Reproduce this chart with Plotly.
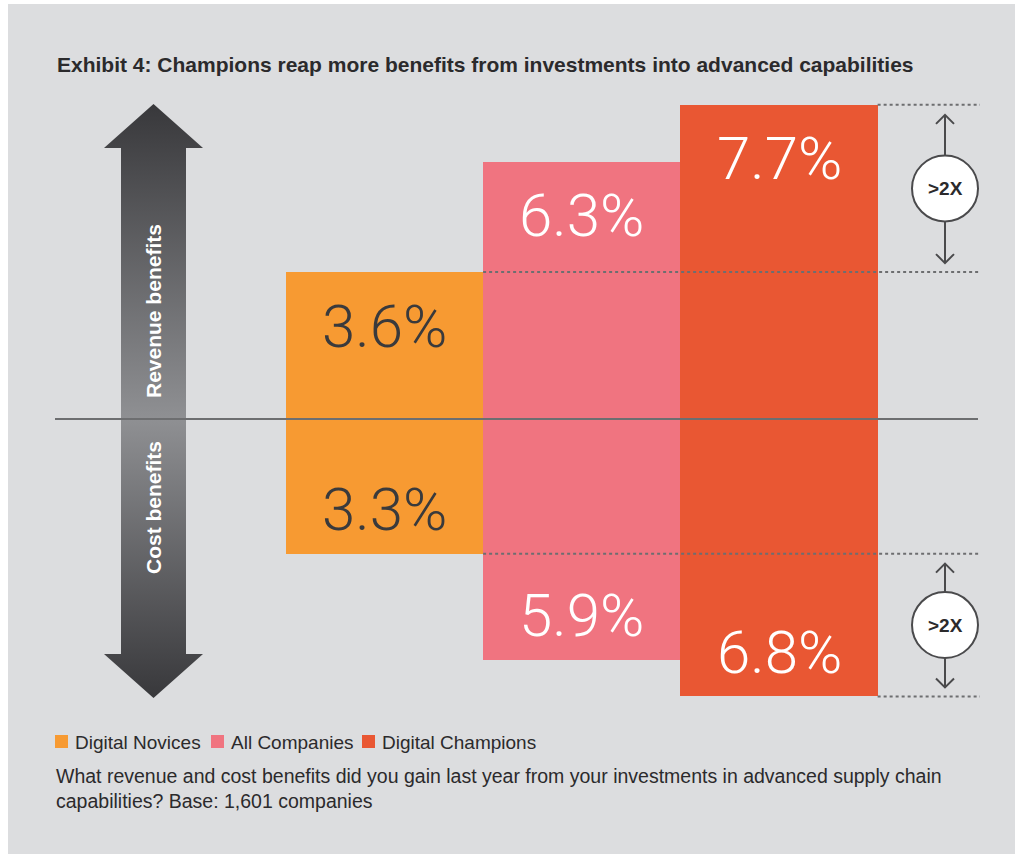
import base64
import plotly.graph_objects as go

# ---------------- data ----------------
groups = ["Digital Novices", "All Companies", "Digital Champions"]
revenue_benefits = [3.6, 6.3, 7.7]
cost_benefits = [3.3, 5.9, 6.8]
colors = ["#f79a32", "#f07480", "#e95733"]
label_colors = ["#3a3a3c", "#ffffff", "#ffffff"]
title_text = "Exhibit 4: Champions reap more benefits from investments into advanced capabilities"
note_text = ("What revenue and cost benefits did you gain last year from your investments in advanced supply chain"
             "<br>capabilities? Base: 1,601 companies")
bracket_label = ">2X"

# ---------------- geometry ----------------
W, H = 1015, 854
L, R, T, B = 55, 15, 90, 134
PW, PH = W - L - R, H - T - B
PXX = 197.25          # pixels per category
PXY = 40.8            # pixels per percentage point
ZERO_PX = 419
X_MIN = -(384.5 - L) / PXX
XR = [X_MIN, X_MIN + PW / PXX]
YR = [-(T + PH - ZERO_PX) / PXY, (ZERO_PX - T) / PXY]


def xp(px):
    return (px - L) / PW


def yp(py):
    return (H - B - py) / PH


def ypix(v):
    return ZERO_PX - v * PXY


BG = "#dcdddf"
LINE = "#6d6e70"
TXT = "#2b2a2c"
FONT = "Liberation Sans, Arial, sans-serif"
NUM_FONT = "Roboto, Liberation Sans, sans-serif"

fig = go.Figure()
xs = list(range(len(groups)))
for i, g in enumerate(groups):
    fig.add_trace(go.Bar(
        x=[xs[i], xs[i]], y=[revenue_benefits[i], -cost_benefits[i]],
        width=1, marker=dict(color=colors[i], line=dict(width=0)),
        name=g, showlegend=False, hoverinfo="skip"))

shapes = []
annotations = []

# white border strips (left/top)
shapes.append(dict(type="rect", xref="paper", yref="paper", x0=xp(0), x1=xp(8), y0=yp(H), y1=yp(0),
                   fillcolor="white", line=dict(width=0), layer="below"))
shapes.append(dict(type="rect", xref="paper", yref="paper", x0=xp(0), x1=xp(W), y0=yp(4), y1=yp(0),
                   fillcolor="white", line=dict(width=0), layer="below"))

# zero line
shapes.append(dict(type="line", xref="paper", yref="y", x0=xp(55), x1=xp(978), y0=0, y1=0,
                   line=dict(color=LINE, width=2), layer="above"))

# dotted reference lines + ">2X" brackets
right_x = X_MIN + (980 - L) / PXX
for sign, vals in [(1, revenue_benefits), (-1, cost_benefits)]:
    lo_v, hi_v = sign * vals[0], sign * vals[2]
    shapes.append(dict(type="line", xref="x", yref="y", x0=xs[0] + 0.5, x1=right_x,
                       y0=lo_v, y1=lo_v, line=dict(color=LINE, width=2, dash="dot"), layer="above"))
    shapes.append(dict(type="line", xref="x", yref="y", x0=xs[2] + 0.5, x1=right_x,
                       y0=hi_v, y1=hi_v, line=dict(color=LINE, width=2, dash="dot"), layer="above"))
    cx = 945
    top_px, bot_px = sorted([ypix(lo_v), ypix(hi_v)])
    cy = (top_px + bot_px) / 2
    r = 33
    shapes.append(dict(type="circle", xref="paper", yref="paper", x0=xp(cx - r), x1=xp(cx + r),
                       y0=yp(cy + r), y1=yp(cy - r), fillcolor="white",
                       line=dict(color="#4a4a4c", width=2), layer="above"))
    tip_up = top_px + 10
    tip_dn = bot_px - 9
    ch = 9
    path = (f"M {xp(cx)},{yp(cy - r)} L {xp(cx)},{yp(tip_up)} "
            f"M {xp(cx - ch)},{yp(tip_up + ch)} L {xp(cx)},{yp(tip_up)} L {xp(cx + ch)},{yp(tip_up + ch)} "
            f"M {xp(cx)},{yp(cy + r)} L {xp(cx)},{yp(tip_dn)} "
            f"M {xp(cx - ch)},{yp(tip_dn - ch)} L {xp(cx)},{yp(tip_dn)} L {xp(cx + ch)},{yp(tip_dn - ch)}")
    shapes.append(dict(type="path", xref="paper", yref="paper", path=path,
                       line=dict(color="#4a4a4c", width=2), layer="above"))
    annotations.append(dict(xref="paper", yref="paper", x=xp(cx), y=yp(cy), text=f"<b>{bracket_label}</b>",
                            showarrow=False, xanchor="center", yanchor="middle",
                            font=dict(family=FONT, size=19, color=TXT)))

# value labels
for i in xs:
    annotations.append(dict(x=xs[i], y=revenue_benefits[i], xref="x", yref="y", text=f"{revenue_benefits[i]}%",
                            showarrow=False, xanchor="center", yanchor="middle", yshift=-54,
                            font=dict(family=NUM_FONT, size=60, weight=300, color=label_colors[i])))
    annotations.append(dict(x=xs[i], y=-cost_benefits[i], xref="x", yref="y", text=f"{cost_benefits[i]}%",
                            showarrow=False, xanchor="center", yanchor="middle", yshift=44,
                            font=dict(family=NUM_FONT, size=60, weight=300, color=label_colors[i])))

# gradient double arrow as SVG image
svg = ('<svg xmlns="http://www.w3.org/2000/svg" width="99" height="594" viewBox="0 0 99 594" '
       'preserveAspectRatio="none"><defs><linearGradient id="g" x1="0" y1="0" x2="0" y2="1">'
       '<stop offset="0" stop-color="#38383b"/><stop offset="0.53" stop-color="#8f9093"/>'
       '<stop offset="1" stop-color="#38383b"/></linearGradient></defs>'
       '<path d="M49.5 0 L99 44 L82 44 L82 550 L99 550 L49.5 594 L0 550 L17 550 L17 44 L0 44 Z" '
       'fill="url(#g)"/></svg>')
src = "data:image/svg+xml;base64," + base64.b64encode(svg.encode()).decode()
images = [dict(source=src, xref="paper", yref="paper", x=xp(104), y=yp(104), sizex=99 / PW, sizey=594 / PH,
               xanchor="left", yanchor="top", sizing="stretch", layer="below")]

annotations.append(dict(xref="paper", yref="paper", x=xp(153), y=yp(311), text="<b>Revenue benefits</b>",
                        textangle=-90, showarrow=False, xanchor="center", yanchor="middle",
                        font=dict(family=FONT, size=21, color="white")))
annotations.append(dict(xref="paper", yref="paper", x=xp(153), y=yp(508), text="<b>Cost benefits</b>",
                        textangle=-90, showarrow=False, xanchor="center", yanchor="middle",
                        font=dict(family=FONT, size=21, color="white")))

# title
annotations.append(dict(xref="paper", yref="paper", x=xp(55), y=yp(65), text=f"<b>{title_text}</b>",
                        showarrow=False, xanchor="left", yanchor="middle",
                        font=dict(family=FONT, size=21, color=TXT)))

# legend (manual)
leg_x = [55, 211, 362]
for i, g in enumerate(groups):
    shapes.append(dict(type="rect", xref="paper", yref="paper", x0=xp(leg_x[i]), x1=xp(leg_x[i] + 13),
                       y0=yp(748), y1=yp(735), fillcolor=colors[i], line=dict(width=0)))
    annotations.append(dict(xref="paper", yref="paper", x=xp(leg_x[i] + 18), y=yp(742), text=g,
                            showarrow=False, xanchor="left", yanchor="middle",
                            font=dict(family=FONT, size=19, color=TXT)))

# note
annotations.append(dict(xref="paper", yref="paper", x=xp(54), y=yp(763), text=note_text, align="left",
                        showarrow=False, xanchor="left", yanchor="top",
                        font=dict(family=FONT, size=19.5, color=TXT)))

fig.update_layout(
    width=W, height=H, autosize=False,
    margin=dict(l=L, r=R, t=T, b=B, pad=0),
    paper_bgcolor=BG, plot_bgcolor="rgba(0,0,0,0)",
    barmode="overlay", bargap=0,
    xaxis=dict(range=XR, visible=False, fixedrange=True),
    yaxis=dict(range=YR, visible=False, fixedrange=True),
    shapes=shapes, annotations=annotations, images=images,
    showlegend=False,
)

fig.write_html("out.html", config={"displayModeBar": False},
               post_script="document.body.style.margin='0';document.body.style.overflow='hidden';")
